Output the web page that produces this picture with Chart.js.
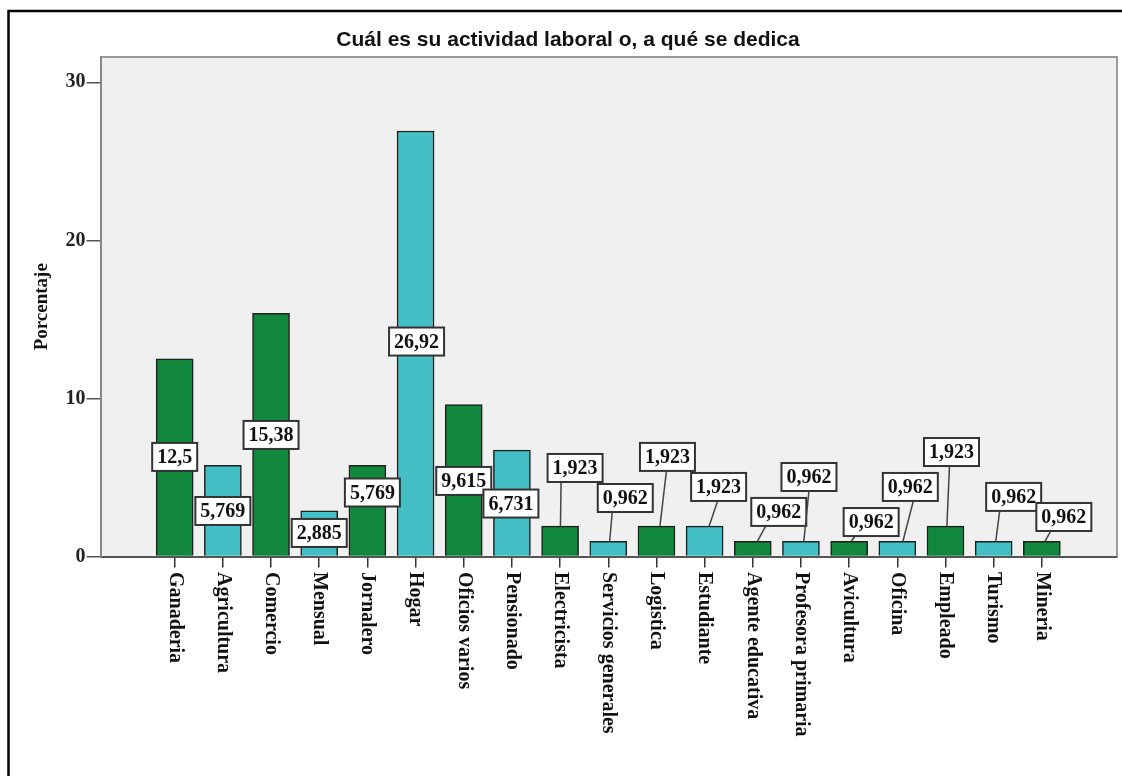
<!DOCTYPE html>
<html><head><meta charset="utf-8">
<script src="https://cdn.jsdelivr.net/npm/chart.js@4.4.0/dist/chart.umd.min.js"></script>
<style>html,body{margin:0;padding:0;background:#fff;}#wrap{width:1122px;height:776px;}</style>
</head><body><div id="wrap"><canvas id="c" width="1122" height="776"></canvas></div>
<script>
const chartTitle = 'Cuál es su actividad laboral o, a qué se dedica';
const yTitle = 'Porcentaje';
const categories = ['Ganaderia','Agricultura','Comercio','Mensual','Jornalero','Hogar','Oficios varios','Pensionado','Electricista','Servicios generales','Logistica','Estudiante','Agente educativa','Profesora primaria','Avicultura','Oficina','Empleado','Turismo','Mineria'];
const values = [12.5, 5.769, 15.38, 2.885, 5.769, 26.92, 9.615, 6.731, 1.923, 0.962, 1.923, 1.923, 0.962, 0.962, 0.962, 0.962, 1.923, 0.962, 0.962];
const yTicks = [0, 10, 20, 30];
// label placement (value-axis units) and horizontal shift (px) of each value box
const labelY = [6.30, 2.88, 7.69, 1.49, 4.05, 13.60, 4.78, 3.35, 5.60, 3.70, 6.30, 4.40, 2.82, 5.03, 2.18, 4.40, 6.61, 3.77, 2.50];
const labelDx = [0, 0, 0, 0, 5, 1, 0, -1, 15, 17, 11, 14, 26, 8, 22, 13, 6, 20, 22];
const lineDx = [0, 0, 0, 0, 0, 0, 0, 0, 1, 4, 10, 13, 13, 8, 6, 16, 4, 6, 9];

const GREEN = '#11883d', TEAL = '#44bfc6';
const colors = categories.map((_, i) => i % 2 === 0 ? GREEN : TEAL);
const fmt = v => String(v).replace('.', ',');
const SERIF = '"Liberation Serif", "Times New Roman", serif';

const decor = {
  id: 'decor',
  beforeDraw(chart) {
    const {ctx, chartArea: a} = chart;
    ctx.save();
    ctx.fillStyle = '#fff';
    ctx.fillRect(0, 0, chart.width, chart.height);
    // outer frame
    ctx.strokeStyle = '#000'; ctx.lineWidth = 2.5;
    ctx.beginPath(); ctx.moveTo(8.5, 800); ctx.lineTo(8.5, 11); ctx.lineTo(1130, 11); ctx.stroke();
    // plot background
    ctx.fillStyle = '#f0f0f0';
    ctx.fillRect(a.left, a.top, a.right - a.left, a.bottom - a.top);
    ctx.strokeStyle = '#9a9a9a'; ctx.lineWidth = 2;
    ctx.beginPath(); ctx.moveTo(a.left, a.top); ctx.lineTo(a.right, a.top); ctx.lineTo(a.right, a.bottom); ctx.stroke();
    // title
    ctx.fillStyle = '#111';
    ctx.font = 'bold 21px "Liberation Sans", Arial, sans-serif';
    ctx.textAlign = 'center'; ctx.textBaseline = 'middle';
    ctx.fillText(chartTitle, 568, 40);
    ctx.restore();
  },
  afterDraw(chart) {
    const {ctx} = chart;
    const xs = chart.scales.x, ys = chart.scales.y;
    ctx.save();
    // category labels, rotated to read top-to-bottom
    ctx.fillStyle = '#111';
    ctx.font = 'bold 20px ' + SERIF;
    ctx.textAlign = 'left'; ctx.textBaseline = 'middle';
    categories.forEach((c, i) => {
      const x = xs.getPixelForValue(i);
      ctx.save(); ctx.translate(x, 572); ctx.rotate(Math.PI / 2);
      ctx.fillText(c, 0, 0); ctx.restore();
    });
    // value labels
    ctx.font = 'bold 20px ' + SERIF;
    ctx.textAlign = 'center';
    values.forEach((v, i) => {
      const bx = xs.getPixelForValue(i);
      const top = ys.getPixelForValue(v);
      const cx = bx + labelDx[i];
      const cy = ys.getPixelForValue(labelY[i]);
      const txt = fmt(v);
      const w = ctx.measureText(txt).width + 10, h = 28;
      if (cy + h / 2 < top) {
        ctx.strokeStyle = '#444'; ctx.lineWidth = 1.5;
        ctx.beginPath(); ctx.moveTo(bx + lineDx[i] * 0.35, top); ctx.lineTo(bx + lineDx[i], cy + h / 2); ctx.stroke();
      }
      ctx.fillStyle = '#fff';
      ctx.fillRect(cx - w / 2, cy - h / 2, w, h);
      ctx.strokeStyle = '#333'; ctx.lineWidth = 2;
      ctx.strokeRect(cx - w / 2, cy - h / 2, w, h);
      ctx.fillStyle = '#111';
      ctx.fillText(txt, cx, cy + 1);
    });
    ctx.restore();
  }
};

new Chart(document.getElementById('c'), {
  type: 'bar',
  data: {
    datasets: [{
      data: values.map((v, i) => ({x: i, y: v})),
      backgroundColor: colors,
      borderColor: '#1e1e1e',
      borderWidth: 1.5,
      barThickness: 37
    }]
  },
  options: {
    responsive: false,
    devicePixelRatio: 1,
    animation: false,
    layout: {padding: {top: 57, right: 5, bottom: 0, left: 0}},
    plugins: {legend: {display: false}, tooltip: {enabled: false}, title: {display: false}},
    scales: {
      x: {
        type: 'linear', min: -1.54, max: 19.56, offset: false,
        afterBuildTicks: s => { s.ticks = categories.map((_, i) => ({value: i})); },
        ticks: {display: false},
        grid: {offset: false, drawOnChartArea: false, drawTicks: true, tickLength: 11, color: '#333', lineWidth: 1.5},
        border: {color: '#555', width: 2},
        afterFit: s => { s.height = 219.5; }
      },
      y: {
        min: 0, max: 31.6,
        afterBuildTicks: s => { s.ticks = yTicks.map(v => ({value: v})); },
        ticks: {font: {family: SERIF, size: 20, weight: 'bold'}, color: '#222', padding: 1},
        grid: {drawOnChartArea: false, drawTicks: true, tickLength: 14, color: '#555', lineWidth: 1.5},
        border: {color: '#888', width: 2},
        title: {display: true, text: yTitle, color: '#111', font: {family: SERIF, size: 19, weight: 'bold'}, padding: {top: 31, bottom: 0}},
        afterFit: s => { s.width = 100.5; }
      }
    }
  },
  plugins: [decor]
});
</script></body></html>
